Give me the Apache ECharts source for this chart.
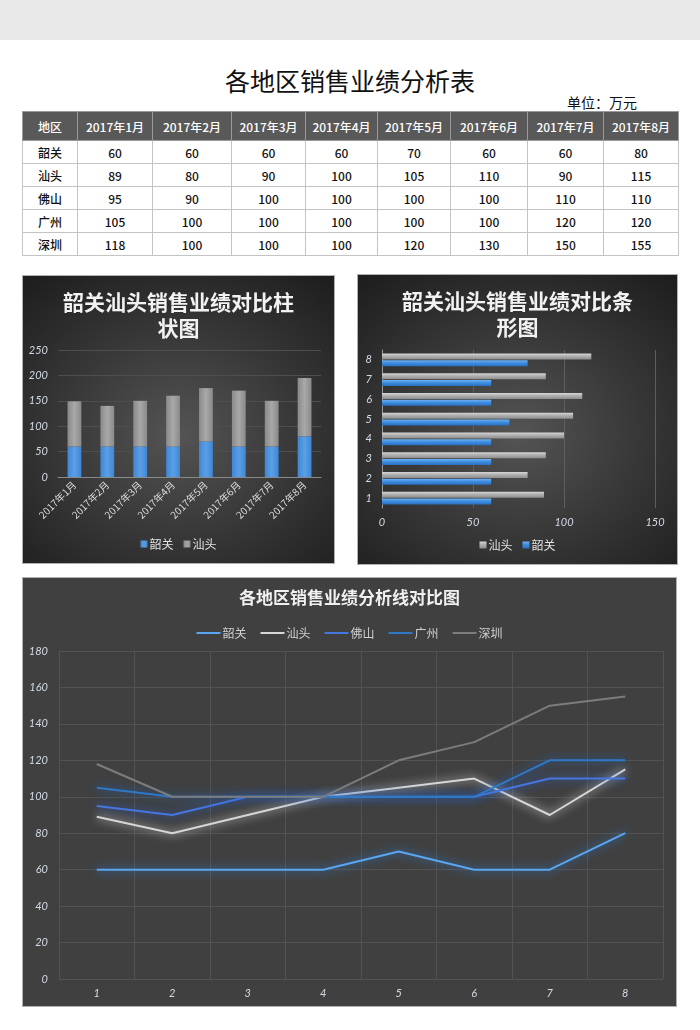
<!DOCTYPE html>
<html>
<head>
<meta charset="utf-8">
<script src="https://cdn.jsdelivr.net/npm/echarts@6/dist/echarts.min.js"></script>
<style>
  html, body { margin: 0; padding: 0; width: 700px; height: 1030px; background: #ffffff; overflow: hidden; font-family: "Noto Sans CJK SC", sans-serif; }
  #band { position: absolute; left: 0; top: 0; width: 700px; height: 40px; background: #e9e9e9; }
  #title { position: absolute; left: 0; top: 62px; width: 700px; text-align: center; font-size: 25px; line-height: 36px; color: #111; }
  #unit { position: absolute; left: 567px; top: 92px; font-size: 14px; line-height: 20px; color: #111; }
  #tbl { position: absolute; left: 22px; top: 111px; border-collapse: collapse; table-layout: fixed; width: 656px; }
  #tbl td, #tbl th { text-align: center; padding: 0; font-size: 12px; color: #111; border: 1px solid #c4c4c4; height: 22px; font-weight: 500; }
  #tbl th { background: #595959; color: #fff; height: 28px; border-color: #9a9a9a; }
  .panel { position: absolute; box-sizing: border-box; border: 1px solid #b0b0b0; }
  #c1 { left: 22px; top: 275px; width: 313px; height: 289px; background: radial-gradient(ellipse 75% 70% at 50% 55%, #545454 0%, #383838 50%, #1e1e1e 100%); }
  #c2 { left: 357px; top: 274px; width: 321px; height: 291px; background: radial-gradient(ellipse 75% 70% at 50% 55%, #545454 0%, #383838 50%, #1e1e1e 100%); }
  #c3 { left: 22px; top: 577px; width: 655px; height: 430px; background: #404040; }
</style>
</head>
<body>
<div id="band"></div>
<div id="title">各地区销售业绩分析表</div>
<div id="unit">单位：万元</div>
<table id="tbl"></table>
<div id="c1" class="panel"></div>
<div id="c2" class="panel"></div>
<div id="c3" class="panel"></div>
<script>
// ---- data ----
const months = ['2017年1月','2017年2月','2017年3月','2017年4月','2017年5月','2017年6月','2017年7月','2017年8月'];
const monthNums = ['1','2','3','4','5','6','7','8'];
const regions = ['韶关','汕头','佛山','广州','深圳'];
const shaoguan = [60, 60, 60, 60, 70, 60, 60, 80];
const shantou = [89, 80, 90, 100, 105, 110, 90, 115];
const foshan = [95, 90, 100, 100, 100, 100, 110, 110];
const guangzhou = [105, 100, 100, 100, 100, 100, 120, 120];
const shenzhen = [118, 100, 100, 100, 120, 130, 150, 155];
const regionHeader = '地区';
const barTitle = '韶关汕头销售业绩对比柱\n状图';
const hbarTitle = '韶关汕头销售业绩对比条\n形图';
const lineTitle = '各地区销售业绩分析线对比图';

// ---- table ----
const colWidths = [55, 75, 79, 74, 72, 73, 77, 76, 75];
const tbl = document.getElementById('tbl');
const rows = [shaoguan, shantou, foshan, guangzhou, shenzhen];
let html = '<colgroup>' + colWidths.map(w => '<col style="width:' + w + 'px">').join('') + '</colgroup>';
html += '<tr><th>' + regionHeader + '</th>' + months.map(m => '<th>' + m + '</th>').join('') + '</tr>';
rows.forEach((r, i) => {
  html += '<tr><td>' + regions[i] + '</td>' + r.map(v => '<td>' + v + '</td>').join('') + '</tr>';
});
tbl.innerHTML = html;

const labelColor = '#d3dbe6';
const numFont = 'Lato, "Liberation Sans", sans-serif';
const cjk = '"Noto Sans CJK SC", sans-serif';

function vgrad(a, b, c) {
  return new echarts.graphic.LinearGradient(0, 0, 1, 0, [
    { offset: 0, color: a }, { offset: 0.5, color: b }, { offset: 1, color: c }
  ]);
}
function hgrad(a, b, c) {
  return new echarts.graphic.LinearGradient(0, 0, 0, 1, [
    { offset: 0, color: a }, { offset: 0.45, color: b }, { offset: 1, color: c }
  ]);
}

// ---- chart 1: stacked column ----
const c1 = echarts.init(document.getElementById('c1'), null, { renderer: 'canvas' });
c1.setOption({
  backgroundColor: 'transparent',
  animation: false,
  title: {
    text: barTitle, left: 'center', top: 8,
    textStyle: { color: '#f2f2f2', fontSize: 21, fontWeight: 'bold', fontFamily: cjk, lineHeight: 26 }
  },
  legend: {
    bottom: 8, left: 'center', itemWidth: 7, itemHeight: 7, itemGap: 10,
    icon: 'rect',
    textStyle: { color: '#e0e0e0', fontSize: 12, fontFamily: cjk, padding: [0, 0, 0, -3] },
    data: ['韶关', '汕头']
  },
  grid: { left: 35, right: 13, top: 74, bottom: 86, containLabel: false },
  xAxis: {
    type: 'category', data: months,
    axisLine: { lineStyle: { color: '#8a8a8a' } },
    axisTick: { show: false },
    axisLabel: { color: '#dcdcdc', fontSize: 10, rotate: 45, margin: 6, fontFamily: cjk, interval: 0 }
  },
  yAxis: {
    type: 'value', min: 0, max: 250, interval: 50,
    axisLine: { show: false }, axisTick: { show: false },
    splitLine: { lineStyle: { color: '#4e4e4e' } },
    axisLabel: { color: labelColor, fontSize: 11, fontStyle: 'italic', fontFamily: numFont, margin: 10 }
  },
  series: [
    { name: '韶关', type: 'bar', stack: 's', data: shaoguan, barWidth: '42%',
      itemStyle: { color: vgrad('#3f86d4', '#5b9fe6', '#3f86d4') } },
    { name: '汕头', type: 'bar', stack: 's', data: shantou, barWidth: '42%',
      itemStyle: { color: vgrad('#8a8a8a', '#a8a8a8', '#8a8a8a') } }
  ]
});

// ---- chart 2: horizontal bars ----
const c2 = echarts.init(document.getElementById('c2'), null, { renderer: 'canvas' });
c2.setOption({
  backgroundColor: 'transparent',
  animation: false,
  title: {
    text: hbarTitle, left: 'center', top: 8,
    textStyle: { color: '#f2f2f2', fontSize: 21, fontWeight: 'bold', fontFamily: cjk, lineHeight: 26 }
  },
  legend: {
    bottom: 8, left: 'center', itemWidth: 7, itemHeight: 7, itemGap: 10,
    icon: 'rect',
    textStyle: { color: '#e0e0e0', fontSize: 12, fontFamily: cjk, padding: [0, 0, 0, -3] },
    data: ['汕头', '韶关']
  },
  grid: { left: 24, right: 22, top: 75, bottom: 56, containLabel: false },
  xAxis: {
    type: 'value', min: 0, max: 150, interval: 50,
    axisLine: { show: false }, axisTick: { show: false },
    splitLine: { lineStyle: { color: '#5e5e5e' } },
    axisLabel: { color: labelColor, fontSize: 11, fontStyle: 'italic', fontFamily: numFont, margin: 9 }
  },
  yAxis: {
    type: 'category', data: monthNums,
    axisLine: { lineStyle: { color: '#9a9a9a' } }, axisTick: { show: false },
    axisLabel: { color: labelColor, fontSize: 11, fontStyle: 'italic', fontFamily: numFont, margin: 10 }
  },
  series: [
    { name: '汕头', type: 'bar', data: shantou, barWidth: 6, barGap: '15%',
      itemStyle: { color: hgrad('#d8d8d8', '#b0b0b0', '#8e8e8e') } },
    { name: '韶关', type: 'bar', data: shaoguan, barWidth: 6, barGap: '15%',
      itemStyle: { color: hgrad('#6fb0f2', '#3d8de0', '#2a6fbf') } }
  ]
});

// ---- chart 3: lines ----
const lineColors = ['#5aa6f0', '#d6d6d6', '#4676e0', '#2f78c8', '#7c7c7c'];
const glowColors = ['#2f86e8', '#ffffff', '#2a64e0', '#1e6ad0', 'rgba(0,0,0,0)'];
const lineData = [shaoguan, shantou, foshan, guangzhou, shenzhen];
const c3 = echarts.init(document.getElementById('c3'), null, { renderer: 'canvas' });
c3.setOption({
  backgroundColor: 'transparent',
  animation: false,
  title: {
    text: lineTitle, left: 'center', top: 6,
    textStyle: { color: '#f0f0f0', fontSize: 17, fontWeight: 'bold', fontFamily: cjk }
  },
  legend: {
    top: 44, left: 'center', itemWidth: 24, itemHeight: 2, itemGap: 14,
    icon: 'rect',
    textStyle: { color: '#d0d0d0', fontSize: 12, fontFamily: cjk, padding: [0, 0, 0, -3] },
    data: regions
  },
  grid: { left: 36, right: 13, top: 73, bottom: 27, containLabel: false },
  xAxis: {
    type: 'category', data: monthNums, boundaryGap: true,
    axisLine: { show: false }, axisTick: { show: false },
    splitLine: { show: true, lineStyle: { color: '#525252' } },
    axisLabel: { color: labelColor, fontSize: 11, fontStyle: 'italic', fontFamily: numFont, margin: 9 }
  },
  yAxis: {
    type: 'value', min: 0, max: 180, interval: 20,
    axisLine: { show: false }, axisTick: { show: false },
    splitLine: { lineStyle: { color: '#525252' } },
    axisLabel: { color: labelColor, fontSize: 11, fontStyle: 'italic', fontFamily: numFont, margin: 11 }
  },
  series: regions.map((name, i) => ({
    name: name, type: 'line', data: lineData[i], symbol: 'none',
    itemStyle: { color: lineColors[i] },
    lineStyle: { color: lineColors[i], width: 2, shadowColor: glowColors[i], shadowBlur: i === 4 ? 0 : 10 }
  }))
});
</script>
</body>
</html>
